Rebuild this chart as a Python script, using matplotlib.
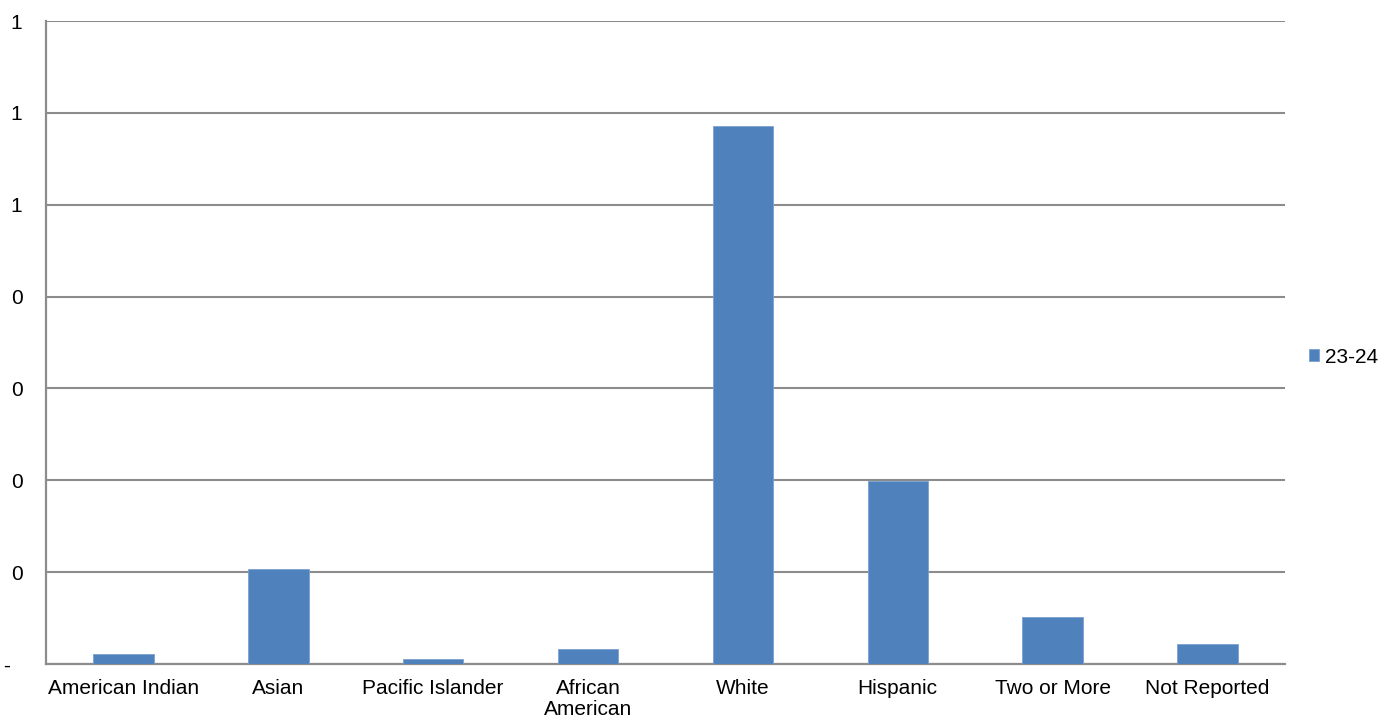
import numpy as np
import matplotlib.pyplot as plt

# data
categories = ["American Indian", "Asian", "Pacific Islander", "African\nAmerican",
              "White", "Hispanic", "Two or More", "Not Reported"]
values_23_24 = [0.0106, 0.1034, 0.0051, 0.0163, 0.5857, 0.199, 0.051, 0.022]
y_ticks = [0.0, 0.1, 0.2, 0.3, 0.4, 0.5, 0.6, 0.7]
y_tick_labels = ["-  ", "0", "0", "0", "0", "1", "1", "1"]

plt.rcParams['font.family'] = ['Liberation Sans', 'DejaVu Sans']
grey = '#8c8c8c'

fig = plt.figure(figsize=(13.83, 7.22), dpi=100)
ax = fig.add_axes([0.0333, 0.0803, 0.8957, 0.8906])

x = np.arange(len(categories))
ax.bar(x, values_23_24, width=0.39, color='#4f81bd', edgecolor='#7ba0cf',
       linewidth=0.6, label='23-24', zorder=3)

ax.set_xlim(-0.5, len(categories) - 0.5)
ax.set_ylim(0, 0.7)
ax.set_yticks(y_ticks)
ax.set_yticklabels(y_tick_labels)
ax.set_xticks(x)
ax.set_xticklabels(categories, linespacing=1.1)

ax.grid(axis='y', color=grey, linewidth=1.5, zorder=0)
ax.tick_params(axis='both', length=0, labelsize=15, colors='black')
ax.tick_params(axis='y', pad=17)
ax.tick_params(axis='x', pad=11)

for side in ['top', 'right']:
    ax.spines[side].set_visible(False)
for side in ['left', 'bottom']:
    ax.spines[side].set_color(grey)
    ax.spines[side].set_linewidth(1.6)

ax.legend(loc='center left', bbox_to_anchor=(1.004, 0.477), frameon=False,
          fontsize=15, handlelength=0.5, handleheight=0.5, handletextpad=0.3)

fig.savefig('out.png', dpi=100)
